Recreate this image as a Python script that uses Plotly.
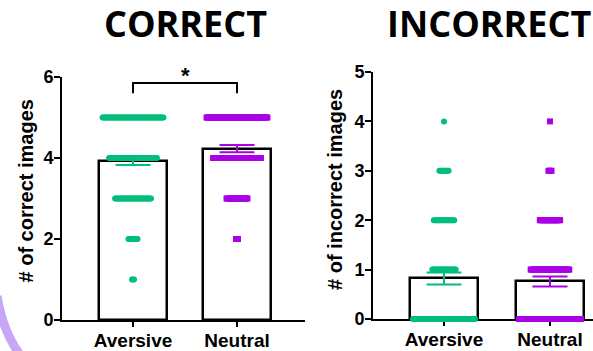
import numpy as np
import plotly.graph_objects as go

# ---------------- data ----------------
categories = ["Aversive", "Neutral"]

correct_levels = [5, 4, 3, 2, 1]
aversive_correct_counts = [62, 49, 37, 10, 3]
neutral_correct_counts = [62, 49, 22, 3, 0]

incorrect_levels = [0, 1, 2, 3, 4]
aversive_incorrect_counts = [66, 24, 21, 10, 1]
neutral_incorrect_counts = [63, 39, 21, 4, 1]

correct_mean = [3.93, 4.23]
correct_sem = [0.10, 0.09]
incorrect_mean = [0.82, 0.76]
incorrect_sem = [0.12, 0.10]

correct_ticks = [0, 2, 4, 6]
incorrect_ticks = [0, 1, 2, 3, 4, 5]

panel_titles = ["CORRECT", "INCORRECT"]
axis_titles = ["# of correct images", "# of incorrect images"]
significance = "*"

# ---------------- style ----------------
W, H = 593, 351
GREEN = "#00BF7A"
PURPLE = "#AA00E6"
colors = [GREEN, PURPLE]
symbols = ["circle", "square"]
BAR_W = 0.645
STEP = 0.0096
DOT = 6
CAP = (BAR_W - 0.058) / 2
AX_FONT = "Liberation Sans, Arial, sans-serif"
TITLE_FONT = "Open Sans, sans-serif"


def px(xp):
    return xp / W


def py(yp):
    return 1 - yp / H


def row_points(center, levels, counts):
    xs, ys = [], []
    for v, n in zip(levels, counts):
        if n <= 0:
            continue
        half = min((n - 1) * STEP / 2, CAP)
        xs.extend(center + np.linspace(-half, half, n))
        ys.extend([v] * n)
    return xs, ys


fig = go.Figure()

panels = [
    dict(xa="x", ya="y", means=correct_mean, sems=correct_sem, levels=correct_levels,
         counts=[aversive_correct_counts, neutral_correct_counts]),
    dict(xa="x2", ya="y2", means=incorrect_mean, sems=incorrect_sem, levels=incorrect_levels,
         counts=[aversive_incorrect_counts, neutral_incorrect_counts]),
]

for p in panels:
    fig.add_trace(go.Bar(
        x=[0, 1], y=p["means"], width=BAR_W, xaxis=p["xa"], yaxis=p["ya"],
        marker=dict(color="white", line=dict(color="black", width=2.5)),
        hoverinfo="skip"))
    for i in range(2):
        fig.add_trace(go.Scatter(
            x=[i], y=[p["means"][i]], mode="markers", xaxis=p["xa"], yaxis=p["ya"],
            marker=dict(size=1, color=colors[i]),
            error_y=dict(type="data", array=[p["sems"][i]], color=colors[i],
                         thickness=2, width=17.5),
            cliponaxis=False))
    for i in range(2):
        xs, ys = row_points(i, p["levels"], p["counts"][i])
        fig.add_trace(go.Scatter(
            x=xs, y=ys, mode="markers", xaxis=p["xa"], yaxis=p["ya"],
            marker=dict(size=DOT, color=colors[i], symbol=symbols[i], line=dict(width=0)),
            cliponaxis=False))

common_x = dict(tickvals=[0, 1], ticktext=categories, ticks="outside", ticklen=5,
                tickwidth=2, tickcolor="black", showline=True, linewidth=2,
                linecolor="black", showgrid=False, zeroline=False, automargin=False,
                layer="below traces", ticklabelstandoff=-3,
                tickfont=dict(family=AX_FONT, size=19, color="black", weight="bold"))
common_y = dict(ticks="outside", ticklen=6, tickwidth=2, tickcolor="black",
                showline=True, linewidth=2, linecolor="black", showgrid=False,
                zeroline=False, automargin=False, ticklabelstandoff=-3,
                tickfont=dict(family=AX_FONT, size=18, color="black", weight="bold"))

fig.update_layout(
    width=W, height=H, margin=dict(l=0, r=0, t=0, b=0),
    paper_bgcolor="white", plot_bgcolor="rgba(0,0,0,0)", showlegend=False,
    template="none", bargap=0,
    xaxis=dict(domain=[px(62), px(305)], range=[-0.683, 1.654], anchor="y", **common_x),
    yaxis=dict(domain=[py(320), py(77)], range=[0, 6], tickvals=correct_ticks,
               anchor="x", **common_y),
    xaxis2=dict(domain=[px(373), 1.0], range=[-0.670, 1.406], anchor="y2", **common_x),
    yaxis2=dict(domain=[py(319), py(72)], range=[0, 5], tickvals=incorrect_ticks,
                anchor="x2", **common_y),
)

# significance bracket
fig.add_shape(type="path", xref="x", yref="y", path="M 0,5.6 L 0,5.85 L 1,5.85 L 1,5.6",
              line=dict(color="black", width=2))
fig.add_annotation(x=px(185.5), y=py(76), xref="paper", yref="paper", text=significance,
                   showarrow=False, xanchor="center", yanchor="middle",
                   font=dict(family=AX_FONT, size=22, color="black", weight="bold"))

# panel titles
for t, cx in zip(panel_titles, [185, 489]):
    fig.add_annotation(x=px(cx), y=py(24), xref="paper", yref="paper", text=t,
                       showarrow=False, xanchor="center", yanchor="middle",
                       font=dict(family=TITLE_FONT, size=36, color="black", weight="bold"))

# axis titles
for t, cx, cy in zip(axis_titles, [25, 335], [191.5, 190]):
    fig.add_annotation(x=px(cx), y=py(cy), xref="paper", yref="paper", text=t,
                       showarrow=False, textangle=-90, xanchor="center", yanchor="middle",
                       font=dict(family=AX_FONT, size=20, color="black", weight="bold"))

# decorative lavender arc at the lower-left corner
fig.add_shape(type="path", xref="paper", yref="paper", layer="below",
              path=f"M {px(-3)},{py(296)} Q {px(4)},{py(338)} {px(26)},{py(362)}",
              line=dict(color="#C6A6F6", width=9))

fig.write_html("out.html", post_script="document.body.style.margin='0';",
               config={"displayModeBar": False})
